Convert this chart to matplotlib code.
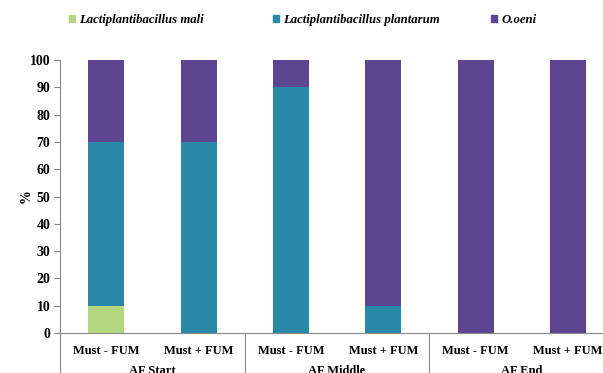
import numpy as np
import matplotlib.pyplot as plt
from matplotlib.patches import Patch

plt.rcParams['font.family'] = ['Liberation Serif', 'DejaVu Serif']

categories = ['Must - FUM', 'Must + FUM', 'Must - FUM', 'Must + FUM', 'Must - FUM', 'Must + FUM']
groups = ['AF Start', 'AF Middle', 'AF End']
series_names = ['Lactiplantibacillus mali', 'Lactiplantibacillus plantarum', 'O.oeni']
mali = [10, 0, 0, 0, 0, 0]
plantarum = [60, 70, 90, 10, 0, 0]
oeni = [30, 30, 10, 90, 100, 100]
colors = ['#b3d77e', '#2a88a8', '#5e4592']

fig = plt.figure(figsize=(6.03, 3.73), dpi=100)
ax = fig.add_axes([60 / 603, 40 / 373, 543 / 603, 273 / 373])

x = np.arange(len(categories))
w = 0.39
bottom = np.zeros(len(categories))
for vals, c in zip([mali, plantarum, oeni], colors):
    ax.bar(x, vals, w, bottom=bottom, color=c, zorder=2)
    bottom += np.array(vals)

ax.set_ylim(0, 100)
ax.set_xlim(-0.5, 5.38)
ax.set_yticks(range(0, 101, 10))
ax.tick_params(axis='y', length=4, width=0.8, color='#888888', labelsize=10, pad=3)
for lbl in ax.get_yticklabels():
    lbl.set_fontweight('bold')
ax.set_xticks([])
for s in ['top', 'right']:
    ax.spines[s].set_visible(False)
for s in ['left', 'bottom']:
    ax.spines[s].set_color('#888888')
    ax.spines[s].set_linewidth(0.8)

ax.set_ylabel('%', fontsize=10, fontweight='bold', labelpad=-2)

# category and group labels under the axis
trans = ax.get_xaxis_transform()
for xi, cat in zip(x, categories):
    ax.text(xi, -0.066, cat, transform=trans, ha='center', va='center',
            fontsize=9, fontweight='bold')
for gi, g in enumerate(groups):
    ax.text(2 * gi + 0.5, -0.14, g, transform=trans, ha='center', va='center',
            fontsize=9, fontweight='bold')
for sx in [-0.5, 1.5, 3.5]:
    ax.plot([sx, sx], [0, -0.2], transform=trans, color='#888888', lw=0.8, clip_on=False)

# legend entries placed individually
leg_x = [69 / 603, 273 / 603, 491 / 603]
for name, c, lx in zip(series_names, colors, leg_x):
    fig.legend(handles=[Patch(color=c, label=name)], loc='center left',
               bbox_to_anchor=(lx, 1 - 20 / 373), frameon=False, borderpad=0,
               borderaxespad=0, handlelength=0.5, handleheight=0.5, handletextpad=0.3,
               prop={'size': 9.2, 'weight': 'bold', 'style': 'italic'})

fig.savefig('out.png', dpi=100)
